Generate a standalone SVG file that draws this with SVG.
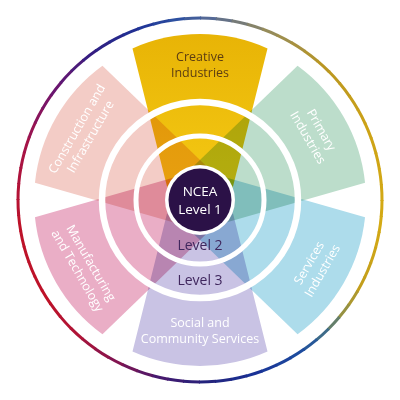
<svg xmlns="http://www.w3.org/2000/svg" width="400" height="400" viewBox="0 0 400 400">
<style>
.wedge{mix-blend-mode:multiply}
.lbl{font-family:"Open Sans","Noto Sans","Liberation Sans",sans-serif;font-size:12.5px;text-anchor:middle;fill:#ffffff}
.dark{fill:#5C3D12}
.lvl{font-family:"Open Sans","Noto Sans","Liberation Sans",sans-serif;font-size:14px;text-anchor:middle;fill:#40275E}
.ncea{font-family:"Open Sans","Noto Sans","Liberation Sans",sans-serif;font-size:13.5px;text-anchor:middle;fill:#ffffff}
.ring circle{fill:none;stroke-width:3;stroke-dasharray:17 1200}
.white{fill:none;stroke:#ffffff}
</style>
<defs>
<linearGradient id="gc" gradientUnits="userSpaceOnUse" x1="0" y1="-166" x2="0" y2="0">
<stop offset="0" stop-color="#E8B406"/>
<stop offset="1" stop-color="#F5CA14"/>
</linearGradient>
</defs>
<rect width="400" height="400" fill="#ffffff"/>
<g id="outer-ring" class="ring" transform="translate(200 200)">
<circle r="182" transform="rotate(-90)" stroke="#556996"/>
<circle r="182" transform="rotate(-85)" stroke="#657287"/>
<circle r="182" transform="rotate(-80)" stroke="#767B78"/>
<circle r="182" transform="rotate(-75)" stroke="#868369"/>
<circle r="182" transform="rotate(-70)" stroke="#968C5A"/>
<circle r="182" transform="rotate(-65)" stroke="#9F8F4C"/>
<circle r="182" transform="rotate(-60)" stroke="#A8913F"/>
<circle r="182" transform="rotate(-55)" stroke="#B09431"/>
<circle r="182" transform="rotate(-50)" stroke="#B99623"/>
<circle r="182" transform="rotate(-45)" stroke="#BD9920"/>
<circle r="182" transform="rotate(-40)" stroke="#C19B1E"/>
<circle r="182" transform="rotate(-35)" stroke="#C59E1B"/>
<circle r="182" transform="rotate(-30)" stroke="#C9A019"/>
<circle r="182" transform="rotate(-25)" stroke="#CDA316"/>
<circle r="182" transform="rotate(-20)" stroke="#CEA416"/>
<circle r="182" transform="rotate(-15)" stroke="#CFA515"/>
<circle r="182" transform="rotate(-10)" stroke="#D1A715"/>
<circle r="182" transform="rotate(-5)" stroke="#D2A815"/>
<circle r="182" transform="rotate(0)" stroke="#D3A914"/>
<circle r="182" transform="rotate(5)" stroke="#D4AA14"/>
<circle r="182" transform="rotate(10)" stroke="#D0A716"/>
<circle r="182" transform="rotate(15)" stroke="#CCA418"/>
<circle r="182" transform="rotate(20)" stroke="#C7A11A"/>
<circle r="182" transform="rotate(25)" stroke="#C39E1C"/>
<circle r="182" transform="rotate(30)" stroke="#AD982F"/>
<circle r="182" transform="rotate(35)" stroke="#969141"/>
<circle r="182" transform="rotate(40)" stroke="#647E6A"/>
<circle r="182" transform="rotate(45)" stroke="#3D6B89"/>
<circle r="182" transform="rotate(50)" stroke="#275899"/>
<circle r="182" transform="rotate(55)" stroke="#1D4B9E"/>
<circle r="182" transform="rotate(60)" stroke="#1C439C"/>
<circle r="182" transform="rotate(65)" stroke="#1A3A99"/>
<circle r="182" transform="rotate(70)" stroke="#193296"/>
<circle r="182" transform="rotate(75)" stroke="#1C2D8E"/>
<circle r="182" transform="rotate(80)" stroke="#202885"/>
<circle r="182" transform="rotate(85)" stroke="#23237D"/>
<circle r="182" transform="rotate(90)" stroke="#2F2078"/>
<circle r="182" transform="rotate(95)" stroke="#3A1C73"/>
<circle r="182" transform="rotate(100)" stroke="#46196E"/>
<circle r="182" transform="rotate(105)" stroke="#5A1764"/>
<circle r="182" transform="rotate(110)" stroke="#6E165A"/>
<circle r="182" transform="rotate(115)" stroke="#821450"/>
<circle r="182" transform="rotate(120)" stroke="#911448"/>
<circle r="182" transform="rotate(125)" stroke="#A0143F"/>
<circle r="182" transform="rotate(130)" stroke="#AF1437"/>
<circle r="182" transform="rotate(135)" stroke="#B41332"/>
<circle r="182" transform="rotate(140)" stroke="#B9132D"/>
<circle r="182" transform="rotate(145)" stroke="#BE1228"/>
<circle r="182" transform="rotate(150)" stroke="#BD1229"/>
<circle r="182" transform="rotate(155)" stroke="#BD1229"/>
<circle r="182" transform="rotate(160)" stroke="#BD1229"/>
<circle r="182" transform="rotate(165)" stroke="#BD1229"/>
<circle r="182" transform="rotate(170)" stroke="#BD1229"/>
<circle r="182" transform="rotate(175)" stroke="#B71230"/>
<circle r="182" transform="rotate(180)" stroke="#B31336"/>
<circle r="182" transform="rotate(185)" stroke="#AE133C"/>
<circle r="182" transform="rotate(190)" stroke="#AA1442"/>
<circle r="182" transform="rotate(195)" stroke="#A51448"/>
<circle r="182" transform="rotate(200)" stroke="#971452"/>
<circle r="182" transform="rotate(205)" stroke="#88145C"/>
<circle r="182" transform="rotate(210)" stroke="#7A1466"/>
<circle r="182" transform="rotate(215)" stroke="#6A156F"/>
<circle r="182" transform="rotate(220)" stroke="#5C1874"/>
<circle r="182" transform="rotate(225)" stroke="#4B1B7A"/>
<circle r="182" transform="rotate(230)" stroke="#361D81"/>
<circle r="182" transform="rotate(235)" stroke="#2D2386"/>
<circle r="182" transform="rotate(240)" stroke="#27288B"/>
<circle r="182" transform="rotate(245)" stroke="#212E92"/>
<circle r="182" transform="rotate(250)" stroke="#213798"/>
<circle r="182" transform="rotate(255)" stroke="#27449C"/>
<circle r="182" transform="rotate(260)" stroke="#2D50A0"/>
<circle r="182" transform="rotate(265)" stroke="#415D9B"/>
</g>
<g id="sectors">
<g id="creative-industries">
<path class="wedge" fill="url(#gc)" transform="translate(200 200)" d="M-29.6 0L-67.5 -151.6A166 166 0 0 1 67.5 -151.6L29.6 0Z"/>
<text class="lbl dark"><tspan x="200" y="60.5">Creative</tspan><tspan x="200" y="76.5">Industries</tspan></text>
</g>
<g id="primary-industries">
<path class="wedge" fill="#BCDDCB" transform="translate(200 200) rotate(60)" d="M-29.6 0L-67.5 -151.6A166 166 0 0 1 67.5 -151.6L29.6 0Z"/>
<text class="lbl" transform="translate(315.2 133.5) rotate(60)"><tspan x="0" y="-3">Primary</tspan><tspan x="0" y="12.5">Industries</tspan></text>
</g>
<g id="services-industries">
<path class="wedge" fill="#ADDCEB" transform="translate(200 200) rotate(120)" d="M-29.6 0L-67.5 -151.6A166 166 0 0 1 67.5 -151.6L29.6 0Z"/>
<text class="lbl" transform="translate(315.2 266.5) rotate(-60)"><tspan x="0" y="-3">Services</tspan><tspan x="0" y="12.5">Industries</tspan></text>
</g>
<g id="social-community-services">
<path class="wedge" fill="#C9C3E4" transform="translate(200 200) rotate(180)" d="M-29.6 0L-67.5 -151.6A166 166 0 0 1 67.5 -151.6L29.6 0Z"/>
<text class="lbl"><tspan x="200" y="327">Social and</tspan><tspan x="200" y="342.5">Community Services</tspan></text>
</g>
<g id="manufacturing-technology">
<path class="wedge" fill="#EAAEC6" transform="translate(200 200) rotate(240)" d="M-29.6 0L-67.5 -151.6A166 166 0 0 1 67.5 -151.6L29.6 0Z"/>
<text class="lbl" transform="translate(84.8 266.5) rotate(60)"><tspan x="0" y="-3">Manufacturing</tspan><tspan x="0" y="12.5">and Technology</tspan></text>
</g>
<g id="construction-infrastructure">
<path class="wedge" fill="#F3CCC6" transform="translate(200 200) rotate(300)" d="M-29.6 0L-67.5 -151.6A166 166 0 0 1 67.5 -151.6L29.6 0Z"/>
<text class="lbl" transform="translate(83.1 132.5) rotate(-60)"><tspan x="0" y="-3">Construction and</tspan><tspan x="0" y="12.5">Infrastructure</tspan></text>
</g>
</g>
<g id="level-rings">
<circle class="white" cx="200" cy="200" r="98" stroke-width="6.5"/>
<circle class="white" cx="200" cy="200" r="64" stroke-width="5"/>
</g>
<g id="level-labels">
<text class="lvl" x="200" y="249.5">Level 2</text>
<text class="lvl" x="200" y="285">Level 3</text>
</g>
<g id="ncea-level-1">
<circle cx="200" cy="200" r="35" fill="#ffffff"/>
<circle cx="200" cy="200" r="31.5" fill="#2B1147"/>
<text class="ncea" x="200" y="196">NCEA</text>
<text class="ncea" x="200" y="213.5">Level 1</text>
</g>
</svg>
